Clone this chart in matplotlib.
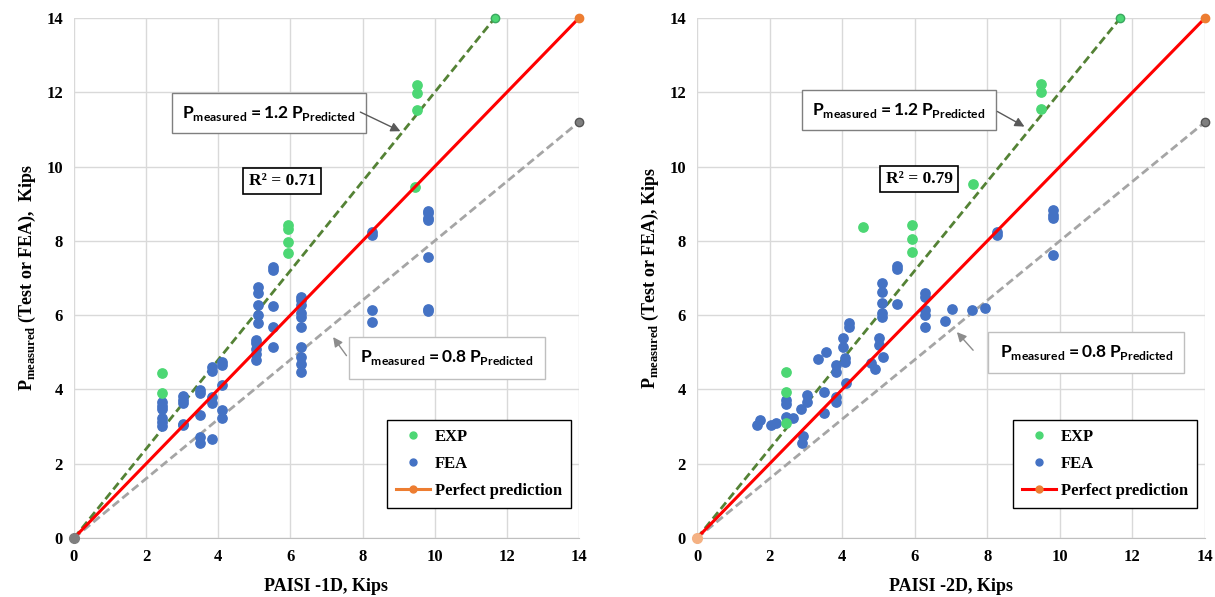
import matplotlib
matplotlib.use("Agg")
import matplotlib.pyplot as plt
from matplotlib.lines import Line2D

plt.rcParams['font.family'] = ['Liberation Serif', 'DejaVu Serif']
plt.rcParams['font.weight'] = 'bold'
plt.rcParams['mathtext.fontset'] = 'custom'
plt.rcParams['mathtext.bf'] = 'Liberation Serif:bold'
plt.rcParams['mathtext.rm'] = 'Liberation Serif:bold'
plt.rcParams['mathtext.sf'] = 'Lato:bold'

# ---- data ----
left_exp_x = [2.43, 2.43, 5.92, 5.92, 5.92, 5.92, 9.5, 9.5, 9.5, 9.46]
left_exp_y = [4.43, 3.91, 8.43, 8.32, 7.97, 7.67, 12.2, 11.99, 11.52, 9.46]

left_fea_x = [2.43, 2.43, 2.43, 2.43, 2.43, 2.43,
              3.01, 3.01, 3.01, 3.01, 3.01,
              3.49, 3.49, 3.49, 3.49, 3.49,
              3.82, 3.82, 3.82, 3.82, 3.82,
              4.09, 4.09, 4.09, 4.09, 4.09,
              5.06, 5.06, 5.06, 5.06, 5.06,
              5.11, 5.11, 5.11, 5.11, 5.11,
              5.51, 5.51, 5.51, 5.51, 5.51,
              6.29, 6.29, 6.29, 6.29, 6.29, 6.29, 6.29, 6.29, 6.29, 6.29,
              8.25, 8.25, 8.25, 8.25,
              9.82, 9.82, 9.82, 9.82, 9.82, 9.82, 9.82]
left_fea_y = [3.66, 3.56, 3.47, 3.22, 3.12, 3.02,
              3.82, 3.72, 3.63, 3.08, 3.04,
              3.98, 3.9, 3.31, 2.73, 2.55,
              4.61, 4.5, 3.8, 3.63, 2.66,
              4.75, 4.66, 4.12, 3.45, 3.22,
              5.33, 5.25, 5.1, 4.95, 4.8,
              6.77, 6.59, 6.27, 6.0, 5.79,
              7.3, 7.22, 6.25, 5.69, 5.15,
              6.5, 6.42, 6.27, 6.05, 5.96, 5.67, 5.15, 4.88, 4.68, 4.48,
              8.25, 8.16, 6.14, 5.82,
              8.8, 8.74, 8.62, 8.56, 7.57, 6.17, 6.11]

right_exp_x = [2.45, 2.45, 2.45, 4.56, 5.92, 5.92, 5.92, 7.6, 9.48, 9.48, 9.48]
right_exp_y = [4.48, 3.92, 3.09, 8.38, 8.43, 8.04, 7.7, 9.52, 12.22, 12.0, 11.55]

right_fea_x = [1.64, 1.74, 2.03, 2.18, 2.45, 2.45, 2.45, 2.64, 2.86, 3.02, 3.02,
               2.93, 2.88, 3.32, 3.55, 3.51, 3.51, 3.83, 3.83, 3.83, 3.83,
               4.01, 4.01, 4.2, 4.2, 4.08, 4.08, 4.1, 4.79, 4.91, 5.02, 5.02,
               5.13, 5.1, 5.1, 5.1, 5.1, 5.1, 5.52, 5.52, 5.52,
               6.29, 6.29, 6.29, 6.29, 6.29, 6.84, 7.04, 7.58, 7.93,
               8.27, 8.27, 9.81, 9.81, 9.81, 9.81]
right_fea_y = [3.05, 3.18, 3.04, 3.1, 3.72, 3.62, 3.25, 3.22, 3.47, 3.85, 3.67,
               2.75, 2.57, 4.82, 5.02, 3.94, 3.36, 4.66, 4.48, 3.8, 3.67,
               5.38, 5.15, 5.78, 5.69, 4.84, 4.75, 4.18, 4.7, 4.54, 5.38, 5.2,
               4.88, 6.86, 6.63, 6.32, 6.05, 5.96, 7.32, 7.23, 6.3,
               6.59, 6.5, 6.14, 6.0, 5.69, 5.85, 6.16, 6.14, 6.19,
               8.25, 8.16, 8.83, 8.7, 8.62, 7.62]

perfect_x = [0, 14]
upper_ratio = 1.2
lower_ratio = 0.8
ticks = [0, 2, 4, 6, 8, 10, 12, 14]

exp_color = '#4cd774'
fea_color = '#4472c4'
green_line = '#548235'
gray_line = '#a5a5a5'
red_line = '#ff0000'
orange = '#ed7d31'

fig = plt.figure(figsize=(12.15, 5.97), dpi=100)
ax1 = fig.add_axes([0.0609, 0.0988, 0.4156, 0.871])
ax2 = fig.add_axes([0.5737, 0.0988, 0.4181, 0.871])

panels = [
    (ax1, left_exp_x, left_exp_y, left_fea_x, left_fea_y, 'PAISI -1D, Kips',
     r'$\mathbf{P}_{\mathbf{measured}}$ (Test or FEA),  Kips', 'R² = 0.71',
     (5.77, 9.61), (5.4, 11.44), (7.87, 11.5), (9.12, 10.92),
     (10.33, 4.85), (7.6, 4.85), (7.14, 5.47), '#7f7f7f', orange),
    (ax2, right_exp_x, right_exp_y, right_fea_x, right_fea_y, 'PAISI -2D, Kips',
     r'$\mathbf{P}_{\mathbf{measured}}$ (Test or FEA), Kips', 'R² = 0.79',
     (6.12, 9.67), (5.57, 11.52), (8.21, 11.52), (9.09, 11.04),
     (10.73, 5.0), (7.66, 5.0), (7.11, 5.6), '#f4b183', red_line),
]

for (ax, ex, ey, fx, fy, xlabel, ylabel, r2, r2pos, upos, utail, uhead,
     lpos, ltail, lhead, origin_color, leg_line) in panels:
    upper_x = [0, perfect_x[1] / upper_ratio]
    upper_y = [v * upper_ratio for v in upper_x]
    lower_y = [v * lower_ratio for v in perfect_x]

    ax.plot(upper_x, upper_y, '--', color=green_line, lw=2, dashes=(3, 1.5), zorder=3)
    ax.plot(upper_x[1], upper_y[1], 'o', ms=6, color=exp_color, mec='#3aa860', zorder=5, clip_on=False)
    ax.plot(perfect_x, lower_y, '--', color=gray_line, lw=2, dashes=(3, 1.5), zorder=3)
    ax.plot(perfect_x[1], lower_y[1], 'o', ms=6, color='#7f7f7f', mec='#555555', zorder=5, clip_on=False)

    ax.scatter(fx, fy, s=45, color=fea_color, zorder=4)
    ax.scatter(ex, ey, s=45, color=exp_color, zorder=4)

    ax.plot(perfect_x, perfect_x, '-', color=red_line, lw=2.2, zorder=5)
    ax.plot(perfect_x[1], perfect_x[1], 'o', ms=6, color=orange, zorder=6, clip_on=False)
    ax.plot(0, 0, 'o', ms=7, color=origin_color, zorder=6, clip_on=False)

    ax.set_xlim(0, 14)
    ax.set_ylim(0, 14)
    ax.set_xticks(ticks)
    ax.set_yticks(ticks)
    ax.tick_params(length=0, labelsize=12, pad=8)
    for lab in ax.get_xticklabels() + ax.get_yticklabels():
        lab.set_fontweight('bold')
    ax.grid(True, color='#d9d9d9', lw=1)
    ax.set_axisbelow(True)
    for s in ['top', 'right', 'left']:
        ax.spines[s].set_visible(False)
    ax.spines['bottom'].set_color('#bfbfbf')

    ax.set_xlabel(xlabel, fontsize=13, fontweight='bold', labelpad=9)
    ax.set_ylabel(ylabel, fontsize=13, fontweight='bold', labelpad=6)

    ax.text(r2pos[0], r2pos[1], r2, fontsize=12.5, fontweight='bold', ha='center', va='center',
            zorder=7, bbox=dict(boxstyle='square,pad=0.3', fc='white', ec='black', lw=1.2))

    ax.text(upos[0], upos[1], r'$\mathsf{P}_{\mathsf{measured}}\mathsf{= 1.2\,P}_{\mathsf{Predicted}}$',
            fontsize=12.5, ha='center', va='center', zorder=7,
            bbox=dict(boxstyle='square,pad=0.6', fc='white', ec='#7f7f7f', lw=1))
    ax.annotate('', xy=uhead, xytext=utail, zorder=7,
                arrowprops=dict(arrowstyle='-|>', color='#595959', lw=1, mutation_scale=14))

    ax.text(lpos[0], lpos[1], r'$\mathsf{P}_{\mathsf{measured}}\mathsf{= 0.8\,P}_{\mathsf{Predicted}}$',
            fontsize=12.5, ha='center', va='center', zorder=7,
            bbox=dict(boxstyle='square,pad=0.65', fc='white', ec='#bfbfbf', lw=1))
    ax.annotate('', xy=lhead, xytext=ltail, zorder=6,
                arrowprops=dict(arrowstyle='-|>', color='#8c8c8c', lw=1, mutation_scale=14))

    handles = [
        Line2D([], [], ls='none', marker='o', ms=5, color=exp_color),
        Line2D([], [], ls='none', marker='o', ms=5, color=fea_color),
        Line2D([], [], ls='-', lw=2.2, marker='o', ms=5, color=leg_line, mfc=orange, mec=orange),
    ]
    leg = ax.legend(handles, ['EXP', 'FEA', 'Perfect prediction'], loc='lower right',
                    bbox_to_anchor=(0.984, 0.058), borderaxespad=0, fancybox=False, framealpha=1,
                    edgecolor='black', prop={'family': 'Liberation Serif', 'weight': 'bold', 'size': 12},
                    handlelength=2.0, labelspacing=0.65, borderpad=0.55, handletextpad=0.3)
    leg.get_frame().set_linewidth(1)
    leg.set_zorder(8)

fig.savefig('out.png', dpi=100)
